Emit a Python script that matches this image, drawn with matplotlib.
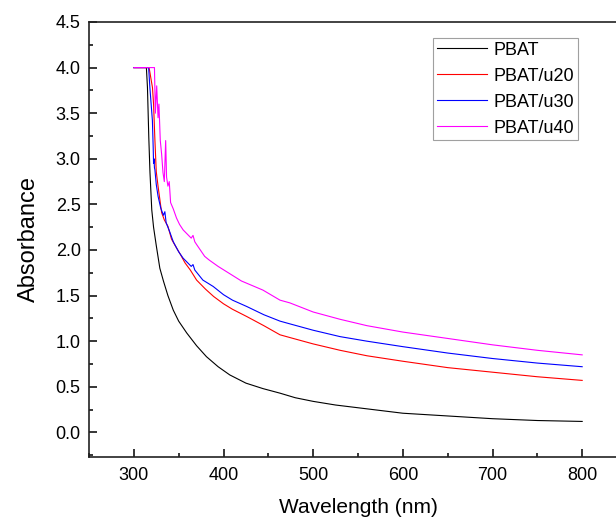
import matplotlib.pyplot as plt
from matplotlib.ticker import MultipleLocator

plt.rcParams['font.family'] = ['Liberation Sans', 'DejaVu Sans']

# %% data
wl_pbat = [300, 314, 315.2, 316.7, 318, 320, 322, 325, 329, 333, 338, 344, 350, 359, 370,
           381, 394, 407, 425, 444, 463, 480, 500, 525, 550, 575, 600, 650, 700, 750, 800]
abs_pbat = [4.0, 4.0, 3.78, 3.23, 2.85, 2.44, 2.25, 2.05, 1.8, 1.66, 1.5, 1.34, 1.22, 1.09, 0.95,
            0.83, 0.72, 0.63, 0.54, 0.48, 0.43, 0.38, 0.34, 0.30, 0.27, 0.24, 0.21, 0.18, 0.15, 0.13, 0.12]

wl_u20 = [300, 317, 320.8, 322, 323.4, 325, 327, 331, 334, 338, 342, 346, 352, 357, 363, 370,
          380, 389, 400, 410, 426, 445, 463, 474, 500, 530, 560, 600, 650, 700, 750, 800]
abs_u20 = [4.0, 4.0, 3.78, 3.6, 3.23, 2.86, 2.7, 2.41, 2.33, 2.26, 2.12, 2.05, 1.95, 1.86, 1.78, 1.67,
           1.57, 1.49, 1.41, 1.35, 1.27, 1.17, 1.07, 1.04, 0.97, 0.9, 0.84, 0.78, 0.71, 0.66, 0.61, 0.57]

wl_u30 = [300, 316.5, 317.9, 320.7, 321.6, 322, 322.5, 323, 323.5, 325, 327, 330, 333, 334.6, 336,
          340, 344, 350, 355, 360, 364, 366, 368, 377, 388.5, 400, 410, 426, 445, 463, 474, 500,
          530, 560, 600, 650, 700, 750, 800]
abs_u30 = [4.0, 4.0, 3.78, 3.42, 3.12, 2.95, 3.0, 2.9, 2.88, 2.72, 2.59, 2.46, 2.38, 2.42, 2.3,
           2.2, 2.09, 1.98, 1.91, 1.86, 1.82, 1.84, 1.78, 1.67, 1.6, 1.51, 1.45, 1.38, 1.29, 1.22, 1.19, 1.12,
           1.05, 1.0, 0.94, 0.87, 0.81, 0.76, 0.72]

wl_u40 = [300, 323, 324, 325.5, 327, 328, 329.5, 331, 332.5, 334, 335.5, 336.5, 338, 339.5, 341,
          344, 347.6, 351, 355, 360, 364, 366, 368, 370, 379, 384, 394, 407, 420, 444, 463, 474,
          500, 530, 560, 600, 650, 700, 750, 800]
abs_u40 = [4.0, 4.0, 3.5, 3.8, 3.45, 3.6, 3.2, 3.05, 2.85, 2.75, 3.2, 2.8, 2.7, 2.75, 2.52,
           2.45, 2.35, 2.28, 2.22, 2.17, 2.13, 2.16, 2.09, 2.06, 1.93, 1.89, 1.82, 1.74, 1.66, 1.56, 1.45, 1.42,
           1.32, 1.24, 1.17, 1.1, 1.03, 0.96, 0.9, 0.85]

# %% plot
fig = plt.figure(figsize=(6.16, 5.18), dpi=100)
# right spine falls just outside the picture, as in the cropped original
ax = fig.add_axes([89 / 616, 61 / 518, 538 / 616, 435 / 518])

ax.plot(wl_pbat, abs_pbat, color='black', lw=0.8, label='PBAT')
ax.plot(wl_u20, abs_u20, color='red', lw=0.8, label='PBAT/u20')
ax.plot(wl_u30, abs_u30, color='blue', lw=0.8, label='PBAT/u30')
ax.plot(wl_u40, abs_u40, color='magenta', lw=0.8, label='PBAT/u40')

ax.set_xlim(250, 850)
ax.set_ylim(-0.27, 4.5)
ax.xaxis.set_major_locator(MultipleLocator(100))
ax.xaxis.set_minor_locator(MultipleLocator(50))
ax.yaxis.set_major_locator(MultipleLocator(0.5))
ax.yaxis.set_minor_locator(MultipleLocator(0.25))
ax.tick_params(which='both', direction='in', top=False, right=False, labelsize=13, width=1.1)
ax.tick_params(which='major', length=6)
ax.tick_params(which='minor', length=3)
ax.tick_params(axis='x', pad=7)
ax.tick_params(axis='y', pad=6)
for s in ax.spines.values():
    s.set_linewidth(1.2)
    s.set_color('#222222')

ax.set_xlabel('Wavelength (nm)', fontsize=15, labelpad=10)
ax.set_ylabel('Absorbance', fontsize=17, labelpad=11)

leg = ax.legend(loc='upper left', bbox_to_anchor=(433 / 616, 1 - 38 / 518),
                bbox_transform=fig.transFigure, borderaxespad=0, fontsize=13,
                frameon=True, fancybox=False, handlelength=2.8, handletextpad=0.35,
                labelspacing=0.5, borderpad=0.2)
leg.get_frame().set_edgecolor('#888888')
leg.get_frame().set_linewidth(0.8)

plt.savefig('out.png', dpi=100)
